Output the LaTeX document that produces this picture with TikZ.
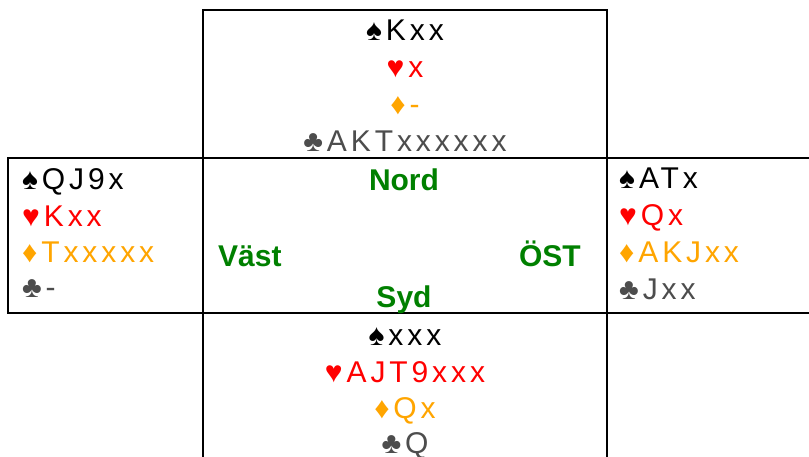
\documentclass[tikz,border=0pt]{standalone}
\usepackage{fontspec}
\setmainfont{Liberation Sans}
\newfontfamily\handfont[LetterSpace=13]{Liberation Sans}
\definecolor{spadec}{HTML}{000000}
\definecolor{heartc}{HTML}{FF0000}
\definecolor{diamc}{HTML}{FFA500}
\definecolor{clubc}{HTML}{4D4D4D}
\definecolor{dirc}{HTML}{008000}
\begin{document}
\begin{tikzpicture}[x=1pt,y=-1pt,
  frame/.style={line width=2pt,black},
  card/.style={inner sep=0pt,font=\handfont\fontsize{30}{36}\selectfont},
  cardc/.style={card,anchor=base},
  cardl/.style={card,anchor=base west},
  dir/.style={inner sep=0pt,text=dirc,font=\fontsize{30}{36}\selectfont\bfseries},
  sp/.style={text=spadec},ht/.style={text=heartc},
  dm/.style={text=diamc},cl/.style={text=clubc}]
\useasboundingbox (0,0) rectangle (809,457);
\fill[white] (0,0) rectangle (809,457);
% frames
\draw[frame] (203,457) -- (203,10) -- (607,10) -- (607,457);
\draw[frame] (809,158) -- (8,158) -- (8,313) -- (809,313);
% North
\node[cardc,sp] (n1) at (405,41) {♠Kxx};
\node[cardc,ht] (n2) at (405,78) {♥x};
\node[cardc,dm] (n3) at (405,115) {♦-};
\node[cardc,cl] (n4) at (405,152) {♣AKTxxxxxx};
% West
\node[cardl,sp] (w1) at (22,190) {♠QJ9x};
\node[cardl,ht] (w2) at (22,227) {♥Kxx};
\node[cardl,dm] (w3) at (22,263) {♦Txxxxx};
\node[cardl,cl] (w4) at (22,298) {♣-};
% East
\node[cardl,sp] (e1) at (619,189) {♠ATx};
\node[cardl,ht] (e2) at (619,226) {♥Qx};
\node[cardl,dm] (e3) at (619,263) {♦AKJxx};
\node[cardl,cl] (e4) at (619,299) {♣Jxx};
% South
\node[cardc,sp] (s1) at (405,345) {♠xxx};
\node[cardc,ht] (s2) at (405,382) {♥AJT9xxx};
\node[cardc,dm] (s3) at (405,418) {♦Qx};
\node[cardc,cl] (s4) at (405,453) {♣Q};
% directions
\node[dir,anchor=base] (dn) at (404,191) {Nord};
\node[dir,anchor=base west] (dw) at (218,267) {Väst};
\node[dir,anchor=base east] (de) at (581,267) {ÖST};
\node[dir,anchor=base] (ds) at (404,307) {Syd};
\end{tikzpicture}
\end{document}
